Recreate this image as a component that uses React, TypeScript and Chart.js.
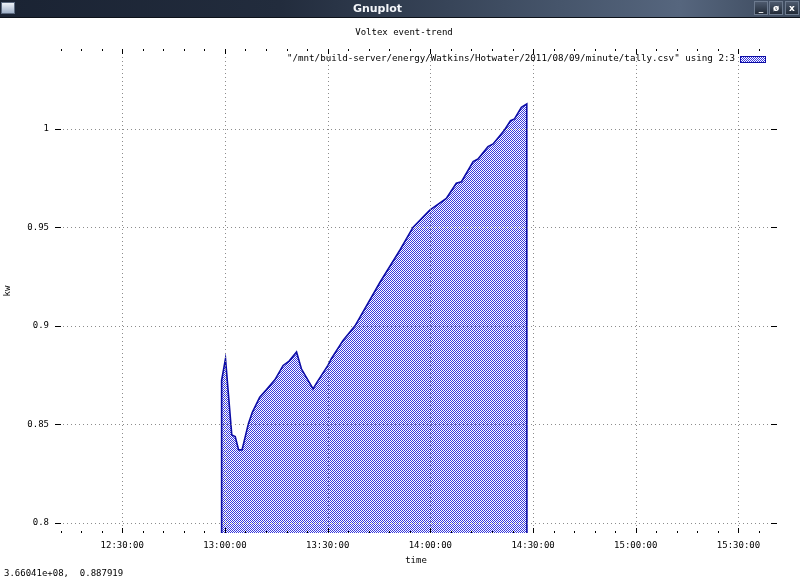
import React, { useEffect, useRef } from "react";
import { Chart, registerables } from "chart.js";

Chart.register(...registerables);

const TITLE = "Voltex event-trend";
const SERIES_LABEL =
  '"/mnt/build-server/energy/Watkins/Hotwater/2011/08/09/minute/tally.csv" using 2:3';
const X_TITLE = "time";
const Y_TITLE = "kw";
const STATUS_TEXT = "3.66041e+08,  0.887919";
const WINDOW_TITLE = "Gnuplot";

// sample times and kw readings
const times = [
  "12:59:00", "12:59:02", "13:00:10", "13:02:00", "13:03:00", "13:04:00",
  "13:05:00", "13:06:50", "13:08:00", "13:10:10", "13:12:05", "13:14:35",
  "13:17:00", "13:18:45", "13:20:55", "13:22:20", "13:25:45", "13:26:55",
  "13:30:05", "13:31:05", "13:34:30", "13:38:00", "13:45:15", "13:51:05",
  "13:54:55", "13:59:50", "14:04:40", "14:07:35", "14:09:05", "14:12:30",
  "14:13:55", "14:16:50", "14:18:20", "14:21:40", "14:23:25", "14:24:35",
  "14:26:35", "14:28:10", "14:28:20",
];
const kw = [
  0, 0.8723, 0.8833, 0.8446, 0.8438, 0.837,
  0.837, 0.8502, 0.8561, 0.8638, 0.8675, 0.8726,
  0.8799, 0.8821, 0.8867, 0.8782, 0.868, 0.8714,
  0.8799, 0.8833, 0.8926, 0.9, 0.922, 0.9384,
  0.95, 0.9588, 0.9647, 0.9724, 0.9732, 0.9834,
  0.9847, 0.991, 0.9924, 0.9995, 1.0042, 1.0051,
  1.011, 1.0127, 0,
];

const xTickLabels = ["12:30:00", "13:00:00", "13:30:00", "14:00:00", "14:30:00", "15:00:00", "15:30:00"];
const yTickLabels = ["0.8", "0.85", "0.9", "0.95", "1"];
const X_RANGE = ["12:10:22", "15:41:15"];
const Y_RANGE = [0.7948, 1.0406];
const MINOR_TICK_START = "12:12:00";
const MINOR_TICK_STEP_MIN = 6;

const FONT = "'DejaVu Sans Mono', 'Liberation Mono', monospace";

const toMin = (s: string) => {
  const [h, m, sec] = s.split(":").map(Number);
  return h * 60 + m + (sec || 0) / 60;
};

const xMajor = xTickLabels.map(toMin);
const yMajor = yTickLabels.map(Number);

export default function App() {
  const ref = useRef<HTMLCanvasElement | null>(null);

  useEffect(() => {
    const canvas = ref.current;
    if (!canvas) return;

    const pc = document.createElement("canvas");
    pc.width = 2;
    pc.height = 2;
    const pctx = pc.getContext("2d")!;
    pctx.fillStyle = "#ffffff";
    pctx.fillRect(0, 0, 2, 2);
    pctx.fillStyle = "rgb(56,56,222)";
    pctx.fillRect(0, 0, 1, 1);
    pctx.fillRect(1, 1, 1, 1);
    const pattern = canvas.getContext("2d")!.createPattern(pc, "repeat")!;

    const lineColor = "#0c0ca6";

    const framePlugin = {
      id: "gnuplotFrame",
      afterDatasetsDraw(chart: any) {
        const ctx = chart.ctx as CanvasRenderingContext2D;
        const { left, right, top, bottom } = chart.chartArea;
        const xs = chart.scales.x;
        const ys = chart.scales.y;
        ctx.save();
        // dotted grid
        ctx.strokeStyle = "#8c8c8c";
        ctx.lineWidth = 1;
        ctx.setLineDash([1, 3]);
        xMajor.forEach((v) => {
          const px = Math.round(xs.getPixelForValue(v)) + 0.5;
          ctx.beginPath();
          ctx.moveTo(px, top);
          ctx.lineTo(px, bottom);
          ctx.stroke();
        });
        yMajor.forEach((v) => {
          const py = Math.round(ys.getPixelForValue(v)) + 0.5;
          ctx.beginPath();
          ctx.moveTo(left, py);
          ctx.lineTo(right, py);
          ctx.stroke();
        });
        ctx.setLineDash([]);
        // tick marks (inward, mirrored)
        ctx.strokeStyle = "#000";
        const xMax = xs.max;
        for (let v = toMin(MINOR_TICK_START); v <= xMax; v += MINOR_TICK_STEP_MIN) {
          if (xMajor.some((m) => Math.abs(m - v) < 1e-6)) continue;
          const px = Math.round(xs.getPixelForValue(v)) + 0.5;
          ctx.beginPath();
          ctx.moveTo(px, bottom);
          ctx.lineTo(px, bottom - 2);
          ctx.moveTo(px, top);
          ctx.lineTo(px, top + 2);
          ctx.stroke();
        }
        xMajor.forEach((v) => {
          const px = Math.round(xs.getPixelForValue(v)) + 0.5;
          ctx.beginPath();
          ctx.moveTo(px, bottom);
          ctx.lineTo(px, bottom - 5);
          ctx.moveTo(px, top);
          ctx.lineTo(px, top + 5);
          ctx.stroke();
        });
        yMajor.forEach((v) => {
          const py = Math.round(ys.getPixelForValue(v)) + 0.5;
          ctx.beginPath();
          ctx.moveTo(left, py);
          ctx.lineTo(left + 6, py);
          ctx.moveTo(right, py);
          ctx.lineTo(right - 6, py);
          ctx.stroke();
        });
        // key (legend) inside the plot, top right
        const boxR = right - 11;
        const boxL = boxR - 26;
        const boxT = top + 7;
        const boxH = 7;
        ctx.fillStyle = pattern;
        ctx.fillRect(boxL, boxT, boxR - boxL, boxH);
        ctx.strokeStyle = lineColor;
        ctx.lineWidth = 1;
        ctx.strokeRect(boxL + 0.5, boxT + 0.5, boxR - boxL - 1, boxH - 1);
        ctx.fillStyle = "#000";
        ctx.font = `9.2px ${FONT}`;
        ctx.textAlign = "right";
        ctx.textBaseline = "middle";
        ctx.fillText(SERIES_LABEL, boxL - 5, boxT + 2.5);
        ctx.restore();
      },
    };

    const chart = new Chart(canvas, {
      type: "line",
      data: {
        datasets: [
          {
            label: SERIES_LABEL,
            data: times.map((t, i) => ({ x: toMin(t), y: kw[i] })),
            borderColor: lineColor,
            borderWidth: 1.6,
            backgroundColor: pattern,
            fill: "start",
            pointRadius: 0,
            tension: 0,
          },
        ],
      },
      options: {
        responsive: false,
        animation: false,
        events: [],
        layout: { padding: { left: 0, right: 23, top: 49, bottom: 0 } },
        plugins: {
          legend: { display: false },
          tooltip: { enabled: false },
          title: { display: false },
        },
        scales: {
          x: {
            type: "linear",
            bounds: "data",
            min: toMin(X_RANGE[0]),
            max: toMin(X_RANGE[1]),
            grid: { display: false, drawTicks: false, tickLength: 0 },
            border: { display: false },
            afterBuildTicks: (s: any) => {
              s.ticks = xMajor.map((v) => ({ value: v }));
            },
            afterFit: (s: any) => {
              s.height = 46;
            },
            ticks: {
              autoSkip: false,
              maxRotation: 0,
              padding: 7,
              color: "#000",
              font: { family: FONT, size: 9 },
              callback: (_v: any, i: number) => xTickLabels[i],
            },
            title: {
              display: true,
              text: X_TITLE,
              color: "#000",
              font: { family: FONT, size: 9 },
              padding: { top: 0, bottom: 13 },
            },
          },
          y: {
            type: "linear",
            bounds: "data",
            min: Y_RANGE[0],
            max: Y_RANGE[1],
            grid: { display: false, drawTicks: false, tickLength: 0 },
            border: { display: false },
            afterBuildTicks: (s: any) => {
              s.ticks = yMajor.map((v) => ({ value: v }));
            },
            afterFit: (s: any) => {
              s.width = 55;
            },
            ticks: {
              autoSkip: false,
              padding: 6,
              color: "#000",
              font: { family: FONT, size: 9 },
              callback: (_v: any, i: number) => yTickLabels[i],
            },
            title: {
              display: true,
              text: Y_TITLE,
              color: "#000",
              font: { family: FONT, size: 9 },
              padding: { top: 2, bottom: 0 },
            },
          },
        },
      } as any,
      plugins: [framePlugin],
    });

    return () => chart.destroy();
  }, []);

  const btn = (glyph: string, left: number) => (
    <div
      style={{
        position: "absolute",
        left,
        top: 1,
        width: 14,
        height: 14,
        boxSizing: "border-box",
        border: "1px solid #6c7a8e",
        background: "linear-gradient(#4d5a6e, #222b38)",
        color: "#fff",
        font: "bold 9px 'DejaVu Sans', sans-serif",
        lineHeight: "12px",
        textAlign: "center",
      }}
    >
      {glyph}
    </div>
  );

  return (
    <div style={{ position: "absolute", left: 0, top: 0, width: 800, height: 579, background: "#fff", overflow: "hidden" }}>
      <canvas ref={ref} width={800} height={579} style={{ position: "absolute", left: 0, top: 0, width: 800, height: 579 }} />
      <div
        style={{
          position: "absolute",
          left: 0,
          top: 0,
          width: 800,
          height: 17,
          background: "linear-gradient(to right, #1a2333 0%, #222c3d 35%, #46556b 70%, #56667e 85%, #3a475a 100%)",
          borderBottom: "1px solid #0d121a",
        }}
      >
        <div
          style={{
            position: "absolute",
            left: 1,
            top: 2,
            width: 14,
            height: 12,
            background: "linear-gradient(#eef2f8, #9fb0c8)",
            border: "1px solid #5c6a80",
            boxSizing: "border-box",
          }}
        />
        <div
          style={{
            position: "absolute",
            left: 0,
            width: 755,
            top: 1,
            textAlign: "center",
            color: "#f4f6fa",
            font: "bold 11px 'DejaVu Sans', sans-serif",
            lineHeight: "15px",
          }}
        >
          {WINDOW_TITLE}
        </div>
        {btn("_", 754)}
        {btn("ø", 769)}
        {btn("x", 785)}
      </div>
      <div
        style={{
          position: "absolute",
          left: 0,
          width: 808,
          top: 26,
          textAlign: "center",
          font: `9px ${FONT}`,
          lineHeight: "12px",
          color: "#000",
          whiteSpace: "pre",
        }}
      >
        {TITLE}
      </div>
      <div
        style={{
          position: "absolute",
          left: 4,
          top: 568,
          font: `9px ${FONT}`,
          lineHeight: "11px",
          color: "#000",
          whiteSpace: "pre",
        }}
      >
        {STATUS_TEXT}
      </div>
    </div>
  );
}
